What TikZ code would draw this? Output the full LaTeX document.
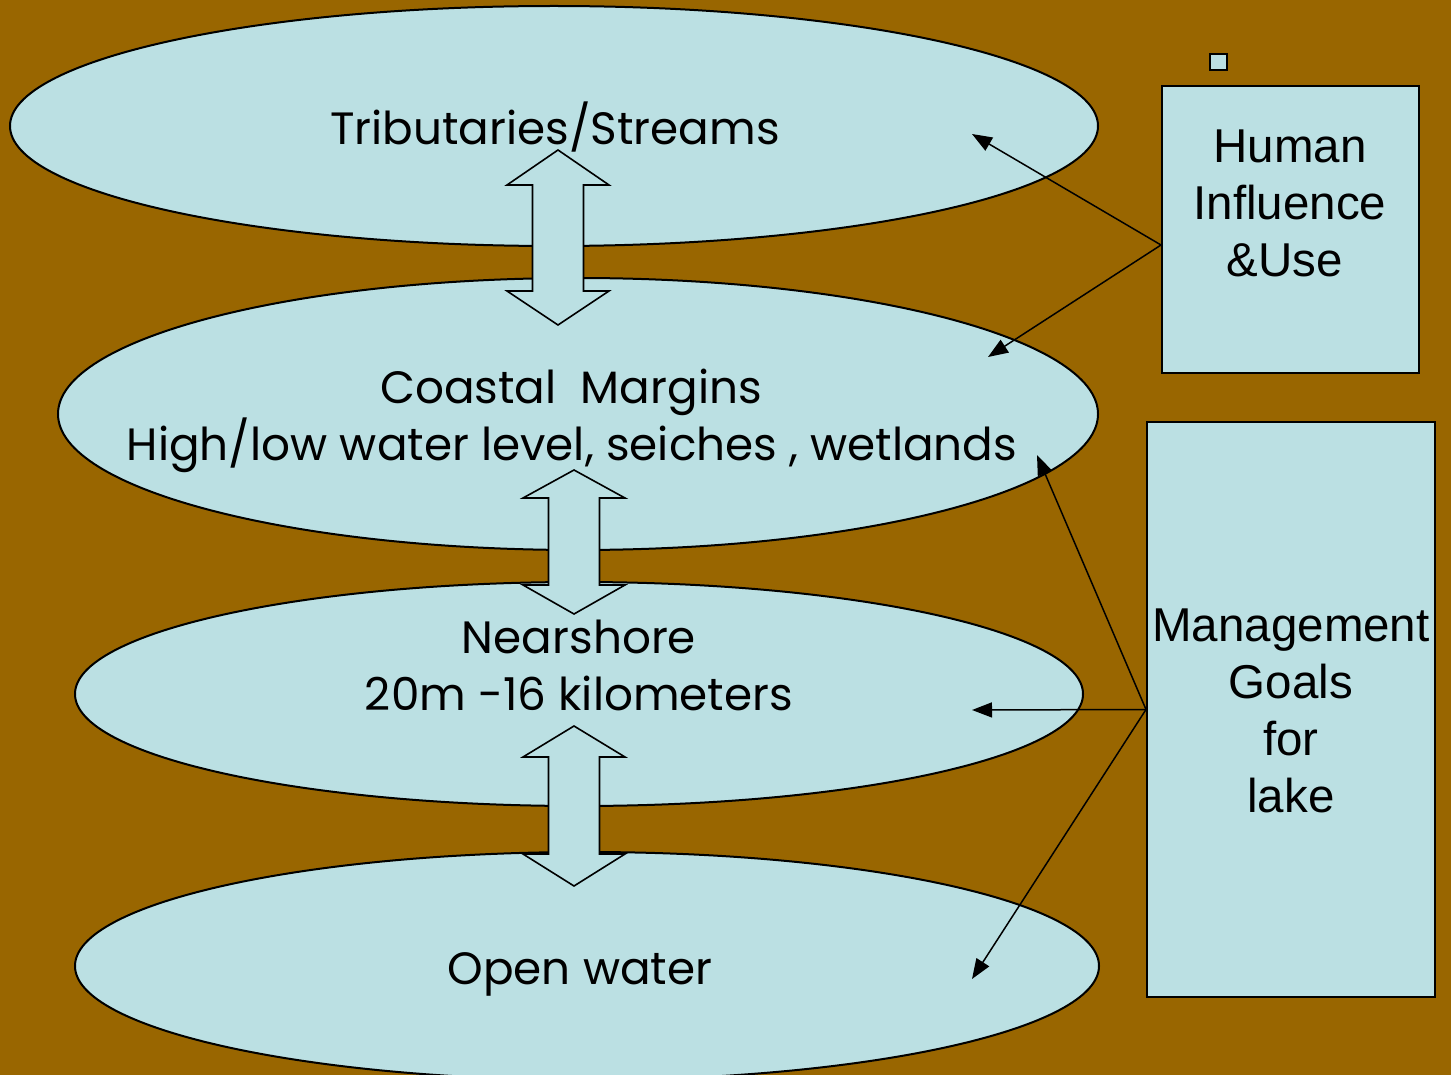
\documentclass[tikz,border=0pt]{standalone}
\usepackage{fontspec}
\setmainfont{Liberation Sans}
\newfontfamily\comicfont{Poppins}
\usetikzlibrary{arrows.meta,shapes.geometric}
\definecolor{bgbrown}{HTML}{996600}
\definecolor{lakeblue}{HTML}{BBE0E3}
\newcommand\dblarr[6]{% name, cx, top tip, top base, bottom base, bottom tip
  \draw[dbl] (#2,#3) coordinate (#1) -- (#2+51,#4) -- (#2+25.5,#4) -- (#2+25.5,#5) -- (#2+51,#5) -- (#2,#6) -- (#2-51,#5) -- (#2-25.5,#5) -- (#2-25.5,#4) -- (#2-51,#4) -- cycle;}
\begin{document}
\begin{tikzpicture}[x=1pt,y=-1pt,
  zone/.style={ellipse, draw=black, line width=2pt, fill=lakeblue, inner sep=0pt},
  box/.style={rectangle, draw=black, line width=2pt, fill=lakeblue, inner sep=0pt},
  link/.style={draw=black, line width=1.5pt, -{Triangle[length=20pt,width=15pt]}},
  dbl/.style={draw=black, line width=1.6pt, fill=lakeblue, line join=miter},
  ztext/.style={font=\comicfont\fontsize{45.3}{57}\selectfont, anchor=base, inner sep=0pt},
  btext/.style={font=\fontsize{47.5}{57}\selectfont, align=center, inner sep=0pt}]
\useasboundingbox (0,0) rectangle (1451,1075);
\fill[bgbrown] (0,0) rectangle (1451,1075);
\begin{scope}
\clip (0,0) rectangle (1451,1075);
\node[zone, minimum width=1088pt, minimum height=240pt] (trib) at (554,126) {};
\node[zone, minimum width=1040pt, minimum height=272pt] (coast) at (578,414) {};
\node[zone, minimum width=1008pt, minimum height=224pt] (near) at (579,694) {};
\node[zone, minimum width=1024pt, minimum height=228pt] (open) at (587,966) {};
\end{scope}
% double arrows between zones
\dblarr{a1}{558}{150}{185}{291}{325}
\dblarr{a2}{574}{470}{498}{585}{614}
\dblarr{a3}{574}{726}{757}{854}{886}
% zone texts
\node[ztext] (t1) at (555,145) {Tributaries/Streams};
\node[ztext] (t2) at (571,403) {Coastal~~Margins};
\node[ztext] (t3) at (572,460) {High/low water level, seiches , wetlands};
\node[ztext] (t4) at (579,653) {Nearshore};
\node[ztext] (t5) at (579,710) {20m -16 kilometers};
\node[ztext] (t6) at (580,984) {Open water};
% side boxes
\node[box, minimum width=17pt, minimum height=16pt, line width=1.5pt] (sq) at (1218.5,62) {};
\node[box, minimum width=257pt, minimum height=287pt] (hum) at (1290.5,229.5) {};
\node[btext] (humtxt) at (1290,203) {Human\\Influence\\\&Use\hspace*{10pt}};
\node[box, minimum width=288pt, minimum height=575pt] (mg) at (1291,709.5) {};
\node[btext] (mgtxt) at (1291,711) {Management\\Goals\\for\\lake};
% connectors
\coordinate (ht1) at (972,134);
\coordinate (ht2) at (988,357);
\coordinate (mt1) at (1037,455);
\coordinate (mt2) at (972,710);
\coordinate (mt3) at (972,979);
\coordinate (hj) at ([yshift=-15.5pt]hum.west);
\draw[link] (hj) -- (ht1);
\draw[link] (hj) -- (ht2);
\draw[link] (mg.west) -- (mt1);
\draw[link] (mg.west) -- (mt2);
\draw[link] (mg.west) -- (mt3);
\end{tikzpicture}
\end{document}
